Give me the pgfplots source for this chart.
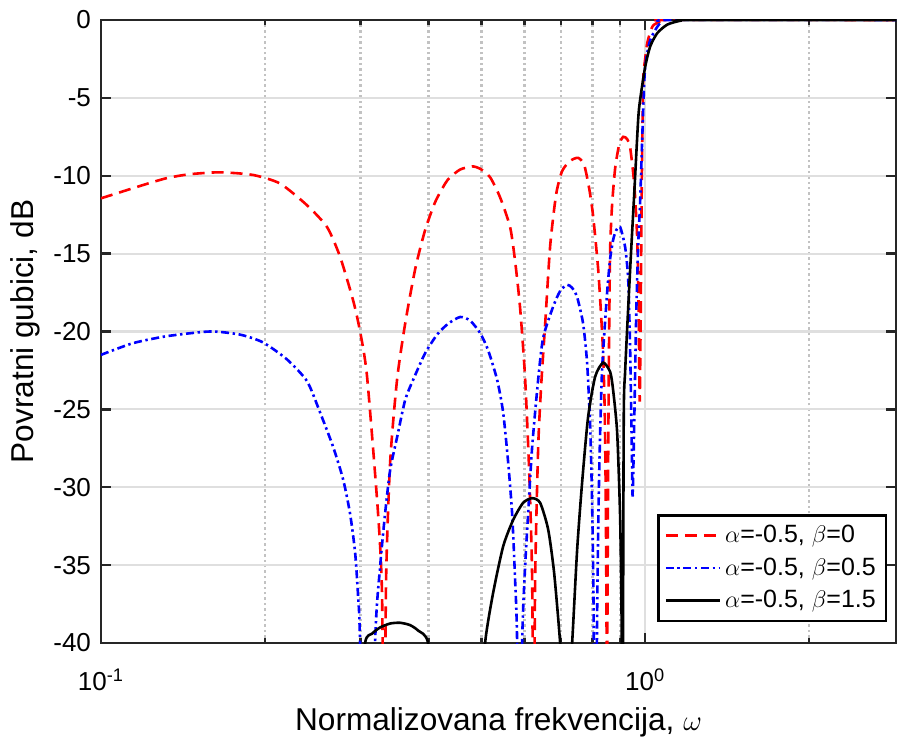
\documentclass[border=0pt]{standalone}
\usepackage{fontspec}
\setmainfont{Liberation Sans}
\usepackage{pgfplots}
\pgfplotsset{compat=1.18}

\definecolor{axc}{rgb}{0.15,0.15,0.15}
\definecolor{gridc}{rgb}{0.875,0.875,0.875}
\definecolor{mgridc}{rgb}{0.76,0.76,0.76}

\begin{document}
\begin{tikzpicture}
\begin{axis}[
    name=ax,
    xmode=log, scale only axis,
    width=397.5pt, height=311.5pt,
    xmin=0.1, xmax=2.89, ymin=-40, ymax=0,
    xtick={0.1,1}, xticklabels={10\textsuperscript{-1},10\textsuperscript{0}},
    minor xtick={0.2,0.3,0.4,0.5,0.6,0.7,0.8,0.9,2},
    ytick={-40,-35,-30,-25,-20,-15,-10,-5,0},
    yticklabels={-40,-35,-30,-25,-20,-15,-10,-5,0},
    xmajorgrids, xminorgrids, ymajorgrids,
    major grid style={color=gridc, line width=1.1pt},
    minor grid style={color=mgridc, line width=1.2pt, dash pattern=on 1.2pt off 1.5pt},
    axis line style={color=axc, line width=1.2pt},
    tick style={color=axc, line width=1.2pt},
    tick align=inside, major tick length=5pt, minor tick length=2.5pt,
    tick label style={font=\fontsize{13}{15}\selectfont},
    xticklabel style={anchor=base, yshift=-23.5pt},
    yticklabel style={xshift=-1.5pt},
    label style={font=\fontsize{15.8}{18}\selectfont},
    xlabel={Normalizovana frekvencija, $\omega$},
    ylabel={Povratni gubici, dB},
    xlabel style={at={(axis description cs:0.5,-0.1397)}, anchor=base},
    ylabel style={at={(axis description cs:-0.0956,0.5)}, anchor=center},
    legend style={at={(0.9887,0.0337)}, anchor=south east, draw=black,
        line width=1.2pt, font=\fontsize{12.5}{15}\selectfont,
        cells={anchor=west}, row sep=2pt, inner xsep=3pt, inner ysep=3pt},
    legend image code/.code={\draw[#1] (0pt,0pt) -- (27pt,0pt);},
]
% beta = 0
\addplot[red, line width=1.3pt, dash pattern=on 6pt off 3.5pt, smooth, tension=0.4] coordinates {
(0.1,-11.45) (0.1194,-10.6) (0.1322,-10.15) (0.1458,-9.9) (0.1655,-9.78)
(0.1903,-9.95) (0.2133,-10.5) (0.2392,-11.9) (0.2603,-13.3) (0.2750,-15.2)
(0.2906,-18.0) (0.2993,-20.0) (0.3083,-22.9) (0.3230,-31.7) (0.3285,-37)
(0.3313,-50) (0.3341,-36) (0.3399,-28.4) (0.3500,-23.1) (0.3622,-19.5)
(0.3779,-16.0) (0.3941,-13.5) (0.4111,-11.7) (0.4290,-10.5) (0.4380,-10.1)
(0.4571,-9.6) (0.4808,-9.4) (0.4974,-9.55) (0.5189,-10.1) (0.5414,-11.4)
(0.5647,-13.3) (0.5768,-15.5) (0.5891,-18.5) (0.6017,-23) (0.6121,-29)
(0.6199,-36) (0.6237,-50) (0.6278,-36) (0.6358,-27.5) (0.6439,-23.5)
(0.6550,-19.5) (0.6690,-14.5) (0.6861,-11.2) (0.7037,-9.7) (0.7280,-9.05)
(0.7530,-8.85) (0.7725,-9.3) (0.7890,-10.8) (0.8024,-12.6) (0.8196,-16.0)
(0.8300,-19) (0.8371,-21.5) (0.8425,-25) (0.8460,-30) (0.8490,-38)
(0.8507,-50) (0.8525,-38) (0.8551,-28) (0.8586,-20) (0.8624,-14.6)
(0.8696,-11.8) (0.8808,-9.5) (0.8958,-8.0) (0.9112,-7.5) (0.9266,-7.65)
(0.9384,-8.2) (0.9545,-10.5) (0.9667,-14) (0.9730,-19) (0.9770,-24.5)
(0.9811,-19) (0.9854,-11) (0.9915,-4.0) (1.0,-2.5) (1.0085,-1.5)
(1.0214,-0.8) (1.0344,-0.35) (1.0656,-0.1) (1.0975,0) (2.89,0)
};
% beta = 0.5
\addplot[blue, line width=1.3pt, dash pattern=on 4pt off 1.8pt on 1.2pt off 1.8pt, smooth, tension=0.4] coordinates {
(0.1,-21.5) (0.1145,-20.75) (0.1322,-20.3) (0.1586,-20.0) (0.1801,-20.2)
(0.1985,-20.7) (0.2198,-21.8) (0.2392,-23.2) (0.2527,-25.2) (0.2670,-27.4)
(0.2786,-29.5) (0.2869,-31.7) (0.2931,-34.2) (0.2968,-37.0) (0.2993,-40)
(0.3083,-60) (0.3189,-40) (0.3258,-35.1) (0.3327,-31.7) (0.3399,-28.9)
(0.3500,-26.8) (0.3622,-24.4) (0.3747,-23.1) (0.3941,-21.4) (0.4146,-20.2)
(0.4344,-19.5) (0.4571,-19.07) (0.4768,-19.3) (0.4974,-20.1) (0.5145,-21.2)
(0.5345,-23.1) (0.5483,-25.2) (0.5600,-28.4) (0.5695,-31.7) (0.5768,-36)
(0.5817,-40) (0.5879,-55) (0.5942,-40) (0.6017,-35.1) (0.6094,-31.7)
(0.6199,-27.4) (0.6358,-23.1) (0.6494,-20.4) (0.6775,-18.4) (0.6979,-17.4)
(0.7188,-17.0) (0.7342,-17.2) (0.7499,-17.8) (0.7691,-19.5) (0.7822,-22)
(0.7922,-26) (0.7990,-31) (0.8040,-38) (0.8092,-55) (0.8161,-38)
(0.8212,-31) (0.8265,-26.5) (0.8337,-22.3) (0.8513,-17.5) (0.8624,-15.3)
(0.8734,-14.1) (0.8845,-13.5) (0.8995,-13.3) (0.9188,-14.6) (0.9307,-16.7)
(0.9384,-21.2) (0.9445,-27) (0.9484,-30.6) (0.9545,-26) (0.9627,-19)
(0.9707,-14.5) (0.9790,-11.6) (0.9915,-5.8) (1.0,-3.0) (1.0214,-1.3)
(1.0656,-0.2) (1.1259,0) (2.89,0)
};
% beta = 1.5
\addplot[black, line width=1.3pt, smooth, tension=0.4] coordinates {
(0.7188,-45) (0.7342,-40) (0.7499,-34.0)
(0.7659,-29.7) (0.7855,-25.5) (0.8092,-22.9) (0.8371,-22.0) (0.8624,-22.6)
(0.8734,-23.8) (0.8882,-26.5) (0.8995,-32) (0.9053,-39) (0.9084,-50)
(0.9131,-26) (0.9188,-22.5) (0.9384,-16) (0.9545,-11.2) (0.9707,-6.4)
(0.9790,-5.1) (1.0,-3.0) (1.0214,-1.7) (1.0521,-0.85) (1.0975,-0.3)
(1.1595,-0.05) (1.2255,0) (2.89,0)
};
\addplot[black, line width=1.3pt, smooth, tension=0.4, forget plot] coordinates {
(0.2968,-45) (0.3057,-40) (0.3149,-39.4) (0.3258,-39.0) (0.3399,-38.75)
(0.3544,-38.7) (0.3698,-38.85) (0.3826,-39.2) (0.3991,-40) (0.4111,-45)
};
\addplot[black, line width=1.3pt, smooth, tension=0.4, forget plot] coordinates {
(0.4974,-45) (0.5079,-40) (0.5254,-36.8) (0.5483,-33.8) (0.5720,-32.1)
(0.5966,-31.0) (0.6199,-30.7) (0.6412,-31.0) (0.6633,-32.7) (0.6803,-35.5)
(0.6979,-40) (0.7127,-45)
};
\legend{{$\alpha$=-0.5, $\beta$=0}, {$\alpha$=-0.5, $\beta$=0.5}, {$\alpha$=-0.5, $\beta$=1.5}}
\end{axis}
\pgfresetboundingbox
\path[use as bounding box] ([shift={(-50.5pt,-47.5pt)}]ax.south west) rectangle ([shift={(0.5pt,10pt)}]ax.north east);
\end{tikzpicture}
\end{document}
